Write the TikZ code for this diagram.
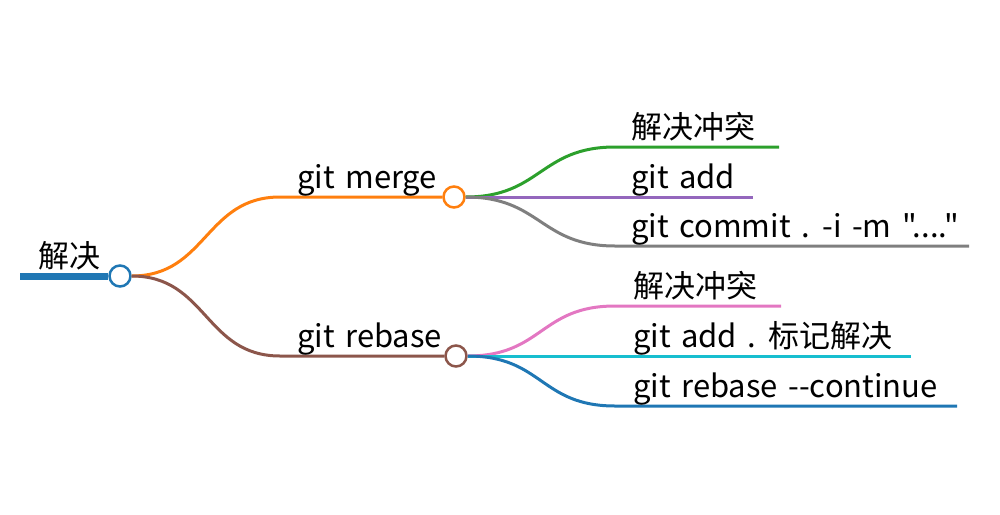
\documentclass[tikz,border=0pt]{standalone}
\usepackage{fontspec}
\newfontfamily\mapfont[WordSpace=1.5]{Noto Sans CJK SC}
\definecolor{cblue}{HTML}{1F77B4}
\definecolor{corange}{HTML}{FF7F0E}
\definecolor{cbrown}{HTML}{8C564B}
\definecolor{cgreen}{HTML}{2CA02C}
\definecolor{cpurple}{HTML}{9467BD}
\definecolor{cgray}{HTML}{7F7F7F}
\definecolor{cpink}{HTML}{E377C2}
\definecolor{ccyan}{HTML}{17BECF}
\tikzset{
  dot/.style={circle, draw=#1, fill=white, line width=2.5pt, minimum size=21pt, inner sep=0pt},
  lbl/.style={anchor=base west, inner sep=0pt, font=\mapfont\fontsize{31}{36}\selectfont},
  edge/.style={line width=3pt, draw=#1},
}
\begin{document}
\begin{tikzpicture}[x=1pt,y=-1pt]
\useasboundingbox (0,0) rectangle (1000,514);
% root
\coordinate (r0) at (20,276);
\node[dot=cblue] (root) at (120,276) {};
\draw[line width=7pt, cblue] (r0) -- (root.west);
\node[lbl] (rootl) at (38,267) {解决};
% level 1
\node[dot=corange] (merge) at (454,197) {};
\node[dot=cbrown] (rebase) at (456,356) {};
\coordinate (m0) at (280,197);
\coordinate (b0) at (280,356);
\draw[edge=corange] (root.east) .. controls +(75,0) and +(-75,0) .. (m0) -- (merge.west);
\draw[edge=cbrown] (root.east) .. controls +(75,0) and +(-75,0) .. (b0) -- (rebase.west);
\node[lbl] (mergel) at (297,188) {git merge};
\node[lbl] (rebasel) at (297,347) {git rebase};
% merge leaves
\coordinate (a1) at (615,147); \coordinate (a1e) at (779,147);
\coordinate (a2) at (615,197); \coordinate (a2e) at (753,197);
\coordinate (a3) at (615,246); \coordinate (a3e) at (969,246);
\draw[edge=cgreen] (merge.east) .. controls +(75,0) and +(-75,0) .. (a1) -- (a1e);
\draw[edge=cpurple] (merge.east) -- (a2e);
\draw[edge=cgray] (merge.east) .. controls +(75,0) and +(-75,0) .. (a3) -- (a3e);
\node[lbl] (a1l) at (631,138) {解决冲突};
\node[lbl] (a2l) at (631,188) {git add};
\node[lbl] (a3l) at (631,237) {git commit . -i -m "...."};
% rebase leaves
\coordinate (b1) at (615,306); \coordinate (b1e) at (781,306);
\coordinate (b2) at (615,356); \coordinate (b2e) at (911,356);
\coordinate (b3) at (615,406); \coordinate (b3e) at (957,406);
\draw[edge=cpink] (rebase.east) .. controls +(75,0) and +(-75,0) .. (b1) -- (b1e);
\draw[edge=ccyan] (rebase.east) -- (b2e);
\draw[edge=cblue] (rebase.east) .. controls +(75,0) and +(-75,0) .. (b3) -- (b3e);
\node[lbl] (b1l) at (633,297) {解决冲突};
\node[lbl] (b2l) at (633,347) {git add . 标记解决};
\node[lbl] (b3l) at (633,397) {git rebase --continue};
\end{tikzpicture}
\end{document}
